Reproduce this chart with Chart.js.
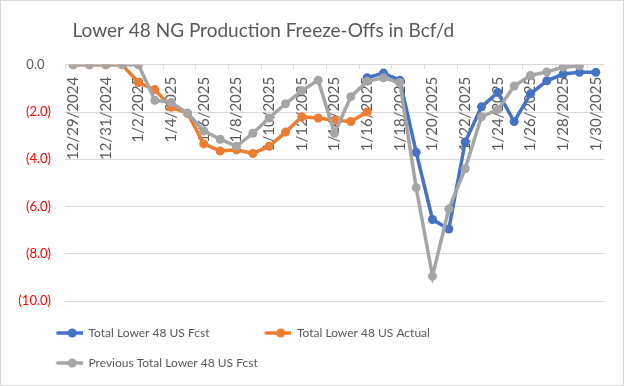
<!DOCTYPE html>
<html><head><meta charset="utf-8">
<script src="https://cdn.jsdelivr.net/npm/chart.js@4.4.1/dist/chart.umd.min.js"></script>
<style>
html,body{margin:0;padding:0;background:#fff;}
#wrap{position:relative;width:622px;height:384px;border:1px solid #d9d9d9;}
canvas{display:block;}
</style></head><body>
<div id="wrap"><canvas id="c" width="622" height="384"></canvas></div>
<script>
const dates = ['12/29/2024','12/30/2024','12/31/2024','1/1/2025','1/2/2025','1/3/2025','1/4/2025','1/5/2025','1/6/2025','1/7/2025','1/8/2025','1/9/2025','1/10/2025','1/11/2025','1/12/2025','1/13/2025','1/14/2025','1/15/2025','1/16/2025','1/17/2025','1/18/2025','1/19/2025','1/20/2025','1/21/2025','1/22/2025','1/23/2025','1/24/2025','1/25/2025','1/26/2025','1/27/2025','1/28/2025','1/29/2025','1/30/2025'];
const fcst = [null,null,null,null,null,null,null,null,null,null,null,null,null,null,null,null,null,null,-0.55,-0.35,-0.65,-3.7,-6.55,-6.95,-3.27,-1.78,-1.17,-2.4,-1.23,-0.68,-0.39,-0.32,-0.32];
const actual = [0,0,0,0,-0.75,-1.05,-1.8,-2.05,-3.35,-3.65,-3.6,-3.75,-3.45,-2.85,-2.2,-2.25,-2.35,-2.4,-2.0,null,null,null,null,null,null,null,null,null,null,null,null,null,null];
const prevFcst = [0,0,0,0,0,-1.5,-1.6,-2.05,-2.8,-3.15,-3.45,-2.9,-2.25,-1.65,-1.1,-0.65,-2.9,-1.35,-0.7,-0.55,-0.75,-5.2,-8.95,-6.1,-4.4,-2.2,-1.9,-0.9,-0.45,-0.3,-0.1,-0.05,null];
const seriesNames = ['Total Lower 48 US Fcst','Total Lower 48 US Actual','Previous Total Lower 48 US Fcst'];
const colors = ['#4472C4','#ED7D31','#A5A5A5'];

const FONT = 'Lato, "Open Sans", sans-serif';
const TXT = '#595959';

// legend sample: transparent left margin, then line with marker
function sample(color){
  const c = document.createElement('canvas'); c.width = 64; c.height = 10;
  const g = c.getContext('2d');
  g.strokeStyle = color; g.lineWidth = 3.5; g.lineCap = 'round';
  g.beginPath(); g.moveTo(39,5); g.lineTo(68,5); g.stroke();
  g.fillStyle = color; g.beginPath(); g.arc(53.5,5,4.5,0,Math.PI*2); g.fill();
  return c;
}
const samples = colors.map(sample);

function ds(i, data, order){
  return {label: seriesNames[i], data, borderColor: colors[i], backgroundColor: colors[i],
    borderWidth: 3.5, pointRadius: 4.5, pointHoverRadius: 4.5, pointBorderWidth: 0,
    tension: 0, spanGaps: false, order};
}

new Chart(document.getElementById('c'), {
  type: 'line',
  data: {labels: dates, datasets: [ds(0,fcst,3), ds(1,actual,2), ds(2,prevFcst,1)]},
  options: {
    responsive: false, animation: false, devicePixelRatio: 1,
    layout: {padding: {left: 0, right: 19, top: 0, bottom: 6}},
    plugins: {
      title: {display: true, text: 'Lower 48 NG Production Freeze-Offs in Bcf/d\u2003\u2003\u2003\u2003\u2003\u2009\u2009\u2009', color: TXT,
        font: {family: FONT, size: 19, weight: 'normal'}, padding: {top: 18, bottom: 23}},
      legend: {position: 'bottom', align: 'start',
        title: {display: true, text: '', font: {size: 8, lineHeight: 1}, padding: 0},
        labels: {usePointStyle: true, pointStyleWidth: 63.5, color: TXT, padding: 18,
          font: {family: FONT, size: 12},
          sort: (a,b) => a.datasetIndex - b.datasetIndex,
          generateLabels(chart){
            const items = Chart.defaults.plugins.legend.labels.generateLabels(chart);
            items.forEach(it => { it.pointStyle = samples[it.datasetIndex]; });
            return items;
          }}},
      tooltip: {enabled: false}
    },
    scales: {
      x: {position: {y: 0}, offset: true,
        grid: {display: true, drawOnChartArea: false, offset: true, tickLength: 12, tickBorderDash: [4, 60],
          color: c => (c.index % 2 === 0 ? '#d9d9d9' : 'rgba(0,0,0,0)')},
        border: {display: false},
        ticks: {autoSkip: false, minRotation: 90, maxRotation: 90, padding: 0, color: TXT,
          font: {family: FONT, size: 15},
          callback: function(v, i){ return i % 2 === 0 ? this.getLabelForValue(v) : ''; }}},
      y: {min: -10, max: 0,
        afterFit(s){ s.width = 64; },
        grid: {color: '#d9d9d9', drawTicks: false},
        border: {display: false},
        ticks: {stepSize: 2, padding: 14, font: {family: FONT, size: 13},
          color: c => (c.tick.value < 0 ? '#FF0000' : TXT),
          callback: v => v < 0 ? '(' + (-v).toFixed(1) + ')' : v.toFixed(1) + '\u2002'}}
    }
  }
});
</script></body></html>
